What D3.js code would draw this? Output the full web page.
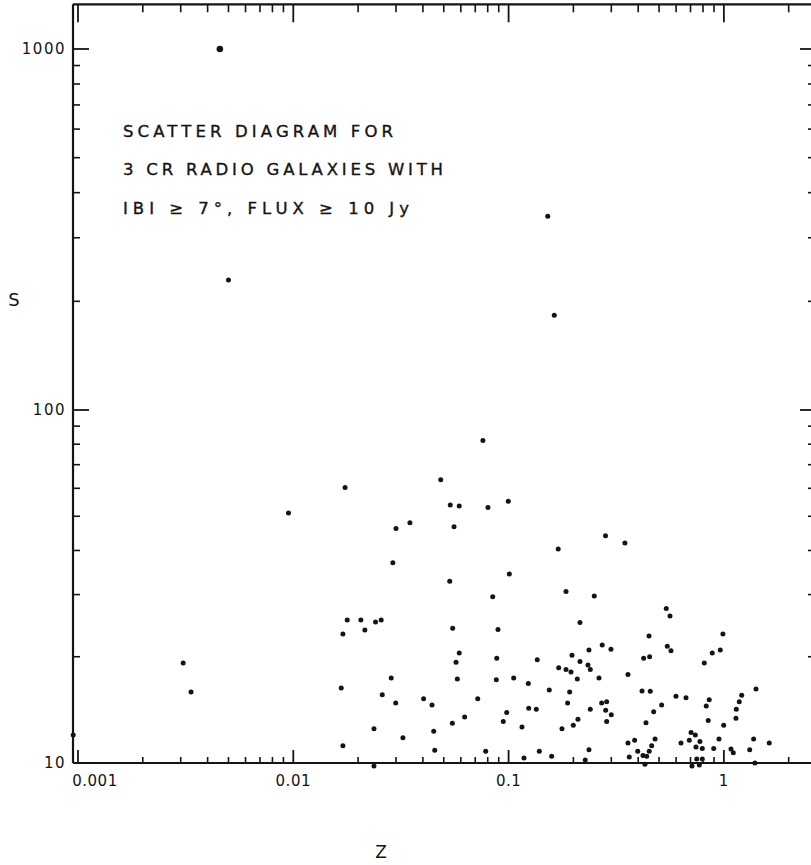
<!DOCTYPE html>
<html><head><meta charset="utf-8">
<script src="https://cdn.jsdelivr.net/npm/d3@7"></script>
<style>body{margin:0;background:#fff;} svg{display:block;}</style>
</head><body>
<svg id="chart" width="811" height="865"></svg>
<script>
// ---- data (redshift z, flux S in Jy) ----
const redshift = [
 0.00456,0.0050,0.152,0.163,0.076,0.170,0.282,0.347,0.00308,0.00335,0.0095,0.00095,
 0.0174,0.0484,0.0536,0.0590,0.0802,0.0997,0.0348,0.0300,0.0558,0.0290,0.0533,0.1008,0.0844,
 0.0178,0.0206,0.0215,0.0241,0.0256,0.0170,0.0550,0.0893,0.0590,0.0570,0.0881,0.1359,
 0.0285,0.0578,0.0877,0.1056,0.1235,0.1545,0.0167,0.0259,0.0299,0.0403,0.0441,0.0719,
 0.0980,0.1240,0.1345,0.0548,0.0625,0.0945,0.1154,0.0237,0.0323,0.0449,0.0170,0.0454,
 0.0783,0.1179,0.1389,0.0237,
 0.1848,0.250,0.2146,0.540,0.562,0.990,0.449,0.2723,0.2989,0.2362,0.546,0.568,0.962,0.883,
 0.197,0.2146,0.424,0.452,0.811,0.2338,0.2396,0.1709,0.1848,0.1949,0.2085,0.263,0.3585,
 0.1922,0.4166,0.455,1.41,0.599,0.667,1.21,0.188,0.2706,0.2855,0.855,0.828,1.179,0.2396,
 0.2825,0.300,0.514,0.472,1.142,0.210,0.1998,0.2855,0.4347,0.846,1.138,0.177,0.998,0.704,
 0.737,0.479,0.385,0.3585,0.462,0.691,0.632,0.774,0.949,1.375,1.625,0.742,0.794,0.897,
 1.079,1.318,0.2362,0.398,0.450,0.1585,1.106,0.421,0.438,0.3635,0.227,0.748,0.794,0.430,
 0.711,0.769,1.394
];
const flux = [
 1000,229,344,183,82,40.4,44.0,42.0,19.2,15.9,51.1,12,
 60.3,63.4,53.8,53.5,52.9,55.1,47.9,46.2,46.7,36.9,32.7,34.3,29.6,
 25.4,25.4,23.8,25.1,25.4,23.2,24.1,23.9,20.5,19.3,19.8,19.6,
 17.4,17.3,17.2,17.4,16.8,16.1,16.3,15.6,14.8,15.2,14.6,15.2,
 13.9,14.3,14.2,12.96,13.5,13.1,12.65,12.5,11.8,12.3,11.2,10.86,
 10.8,10.33,10.8,9.8,
 30.6,29.7,25.0,27.4,26.1,23.2,22.9,21.6,21.0,20.9,21.4,20.8,20.9,20.5,
 20.2,19.4,19.8,20.0,19.2,18.95,18.4,18.6,18.4,18.1,17.3,17.4,17.8,
 15.9,16.0,15.96,16.2,15.45,15.3,15.55,14.8,14.8,14.9,15.1,14.5,14.9,14.2,
 14.1,13.7,14.6,13.97,14.2,13.3,12.8,13.1,13.0,13.2,13.4,12.5,12.8,12.2,
 12.0,11.7,11.6,11.4,11.2,11.6,11.4,11.5,11.7,11.7,11.4,11.1,11.0,11.0,
 10.96,10.9,10.9,10.8,10.8,10.45,10.7,10.5,10.45,10.4,10.2,10.26,10.26,9.92,
 9.8,9.87,10.0
];
const xMajorTicks = [0.001, 0.01, 0.1, 1];
const xTickLabels = ["0.001", "0.01", "0.1", "1"];
const yMajorTicks = [10, 100, 1000];
const yTickLabels = ["10", "100", "1000"];
const titleLines = ["SCATTER DIAGRAM FOR", "3 CR RADIO GALAXIES WITH", "IBI \u2265 7\u00B0,  FLUX \u2265 10 Jy"];
const xAxisTitle = "Z";
const yAxisTitle = "S";

// ---- scales ----
const x = d3.scaleLog().domain([0.000948, 2.594]).range([73, 813]);
const y = d3.scaleLog().domain([10, 100, 1000]).range([763, 410, 49]);
const yTopValue = 1330;

const svg = d3.select("#chart");
const ink = "#141414";
const font = "'DejaVu Sans', sans-serif";

const x0 = x.range()[0], x1 = x.range()[1];
const yb = y(10), yt = y(yTopValue);

// minor tick values
const xMinor = [];
[0.001, 0.01, 0.1, 1].forEach(d => d3.range(2, 10).forEach(k => { if (d * k < x.domain()[1]) xMinor.push(d * k); }));
const yMinor = [];
[10, 100, 1000].forEach(d => d3.range(2, 10).forEach(k => { if (d * k < yTopValue) yMinor.push(d * k); }));

const g = svg.append("g").attr("stroke", ink).attr("fill", "none").attr("stroke-linecap", "butt");

// frame
g.append("line").attr("x1", x0).attr("x2", x1).attr("y1", yb).attr("y2", yb).attr("stroke-width", 2.2);
g.append("line").attr("x1", x0).attr("x2", x1).attr("y1", yt).attr("y2", yt).attr("stroke-width", 2.2);
g.append("line").attr("x1", x0).attr("x2", x0).attr("y1", yt).attr("y2", yb).attr("stroke-width", 2.2);
g.append("line").attr("x1", x1).attr("x2", x1).attr("y1", yt).attr("y2", yb).attr("stroke-width", 2.2);

// bottom ticks
g.selectAll(null).data(xMajorTicks).join("line")
  .attr("x1", d => x(d)).attr("x2", d => x(d)).attr("y1", yb).attr("y2", yb - 13).attr("stroke-width", 1.8);
g.selectAll(null).data(xMinor).join("line")
  .attr("x1", d => x(d)).attr("x2", d => x(d)).attr("y1", yb).attr("y2", yb - 6).attr("stroke-width", 1.6);
// top ticks
g.selectAll(null).data(xMajorTicks).join("line")
  .attr("x1", d => x(d)).attr("x2", d => x(d)).attr("y1", yt).attr("y2", yt + 18).attr("stroke-width", 1.8);
g.selectAll(null).data(xMinor).join("line")
  .attr("x1", d => x(d)).attr("x2", d => x(d)).attr("y1", yt).attr("y2", yt + 8).attr("stroke-width", 1.6);
// left ticks
g.selectAll(null).data(yMajorTicks).join("line")
  .attr("y1", d => y(d)).attr("y2", d => y(d)).attr("x1", x0).attr("x2", x0 + 16).attr("stroke-width", 1.8);
g.selectAll(null).data(yMinor).join("line")
  .attr("y1", d => y(d)).attr("y2", d => y(d)).attr("x1", x0).attr("x2", x0 + 7).attr("stroke-width", 1.6);
// right ticks
g.selectAll(null).data(yMajorTicks).join("line")
  .attr("y1", d => y(d)).attr("y2", d => y(d)).attr("x1", x1).attr("x2", x1 - 13).attr("stroke-width", 1.8);
g.selectAll(null).data(yMinor).join("line")
  .attr("y1", d => y(d)).attr("y2", d => y(d)).attr("x1", x1).attr("x2", x1 - 5).attr("stroke-width", 1.6);

// tick labels
svg.selectAll(null).data(xMajorTicks).join("text")
  .attr("x", (d, i) => x(d) + (i === 0 ? 17 : 0))
  .attr("y", yb + 23)
  .attr("text-anchor", "middle")
  .attr("font-family", font).attr("font-size", 15).attr("fill", ink)
  .attr("letter-spacing", 0.5)
  .text((d, i) => xTickLabels[i]);
svg.selectAll(null).data(yMajorTicks).join("text")
  .attr("x", x0 - 7)
  .attr("y", d => y(d) + 5)
  .attr("text-anchor", "end")
  .attr("font-family", font).attr("font-size", 15).attr("fill", ink)
  .attr("letter-spacing", 1.5)
  .text((d, i) => yTickLabels[i]);

// axis titles
svg.append("text").attr("x", 381).attr("y", 858).attr("text-anchor", "middle")
  .attr("font-family", font).attr("font-size", 17).attr("fill", ink).text(xAxisTitle);
svg.append("text").attr("x", 14).attr("y", 306).attr("text-anchor", "middle")
  .attr("font-family", font).attr("font-size", 18).attr("fill", ink).text(yAxisTitle);

// annotation
const titleWidths = [270, 320, 286];
const titleBase = [137, 175, 214];
svg.selectAll(null).data(titleLines).join("text")
  .attr("x", 123).attr("y", (d, i) => titleBase[i])
  .attr("font-family", font).attr("font-size", 16.5).attr("fill", ink)
  .attr("stroke", ink).attr("stroke-width", 0.35)
  .attr("textLength", (d, i) => titleWidths[i]).attr("lengthAdjust", "spacing")
  .text(d => d);

// points
const pts = redshift.map((z, i) => ({ z, s: flux[i] }));
svg.append("g").selectAll("circle").data(pts).join("circle")
  .attr("cx", d => x(d.z)).attr("cy", d => y(d.s))
  .attr("r", d => d.s >= 900 ? 3.3 : 2.5)
  .attr("fill", ink);
</script>
</body></html>
